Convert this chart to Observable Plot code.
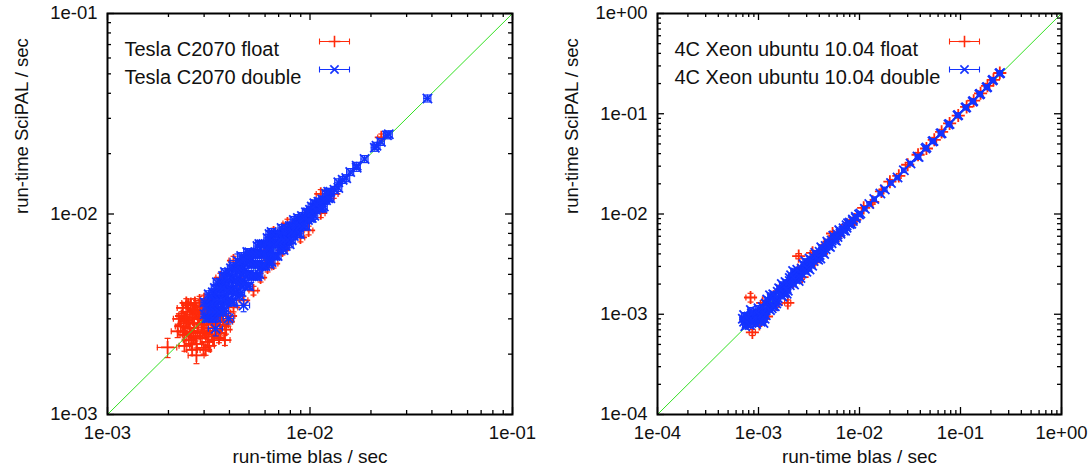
<!DOCTYPE html>
<html><head><meta charset="utf-8">
<script src="https://cdn.jsdelivr.net/npm/d3@7"></script>
<script src="https://cdn.jsdelivr.net/npm/@observablehq/plot@0.6"></script>
<style>
body{margin:0;background:#fff;}
#wrap{position:relative;width:1089px;height:476px;overflow:hidden;}
#left,#right{position:absolute;top:0;}
#left{left:0;} #right{left:545px;}
</style></head><body><div id="wrap"><div id="left"></div><div id="right"></div></div>
<script>
// ---- data: [blas run-time ms, SciPAL run-time ms, relative error] ----
const leftSeriesNames = ["Tesla C2070 float", "Tesla C2070 double"];
const rightSeriesNames = ["4C Xeon ubuntu 10.04 float", "4C Xeon ubuntu 10.04 double"];
const xLabel = "run-time blas / sec";
const yLabel = "run-time SciPAL / sec";
const leftDecades = [1e-3, 1e-2, 1e-1];
const leftTickLabels = ["1e-03", "1e-02", "1e-01"];
const rightDecades = [1e-4, 1e-3, 1e-2, 1e-1, 1e0];
const rightTickLabels = ["1e-04", "1e-03", "1e-02", "1e-01", "1e+00"];

const teslaFloat = [
[2.30,2.75,.06],[2.32,3.10,.05],[2.35,3.40,.06],[2.40,2.50,.05],[2.45,2.95,.07],[2.48,3.25,.05],[2.52,2.35,.06],[2.55,2.70,.05],[2.58,3.55,.06],[2.62,3.05,.05],[2.65,2.45,.07],[2.68,2.85,.05],[2.72,3.30,.06],[2.75,2.25,.06],[2.78,2.60,.05],[2.82,3.00,.05],[2.85,3.70,.05],[2.88,2.40,.06],[2.92,2.80,.05],[2.95,3.20,.06],[2.98,2.15,.07],[3.02,2.55,.05],[3.05,3.45,.05],[3.08,2.95,.05],[3.12,2.30,.06],[3.15,2.70,.05],[3.20,3.10,.05],[3.25,3.60,.05],[3.28,2.45,.06],[3.32,2.85,.05],[3.38,3.25,.05],[3.42,2.60,.06],[3.48,3.00,.05],[3.55,2.40,.05],[3.60,2.75,.05],[3.65,3.15,.05],[3.72,2.95,.05],[2.40,2.20,.06],[2.22,2.60,.07],[2.25,3.00,.06],
[2.50,3.50,.05],[2.70,3.60,.05],[2.60,2.25,.06],[3.00,3.75,.05],[3.35,2.35,.06],[2.38,2.85,.05],[2.88,3.45,.05],[3.18,2.20,.06],[3.50,3.40,.05],[2.55,3.15,.05],
[2.35,2.60,.05],[2.42,3.05,.05],[2.50,2.85,.05],[2.58,2.55,.05],[2.65,3.35,.05],[2.72,2.45,.05],[2.80,2.85,.05],[2.85,3.25,.05],[2.95,2.60,.05],[3.00,2.95,.05],[3.10,3.30,.05],[3.15,2.50,.05],[3.25,2.95,.05],[3.35,3.05,.05],[3.45,2.80,.05],[3.55,3.20,.05],[2.45,3.60,.05],[2.62,2.10,.06],[3.05,2.10,.06],[3.62,2.55,.05],
[3.85,2.65,.05],[3.95,2.90,.05],[3.80,2.35,.06],[4.05,3.10,.05],
[1.98,2.16,.11],[2.75,1.97,.09],
[3.92,2.94,.05],[4.19,3.42,.05],[4.70,3.71,.05],[5.26,4.15,.05],[5.70,4.82,.05],[6.17,5.41,.05],[6.61,5.66,.05],[7.31,6.58,.05],[7.74,7.13,.05],[8.97,7.64,.05],[9.84,8.28,.05],[11.3,10.1,.05],[13.1,12.6,.05],
[3.61,4.82,.05],[4.19,5.86,.05],[4.91,6.07,.05],[5.70,6.58,.05],[6.61,8.09,.05],[7.74,8.97,.05],[11.3,12.6,.05],
[22.5,24.1,.04],[4.5,4.6,.05],[6.0,6.2,.05],[8.0,8.1,.05],[10.0,10.2,.05]
];

const teslaDouble = [
[3.02,3.16,.04],[3.02,3.63,.04],
[3.16,3.02,.04],[3.16,3.55,.04],[3.16,3.98,.04],
[3.31,3.02,.04],[3.31,3.55,.04],[3.31,4.07,.04],
[3.47,3.02,.04],[3.47,3.55,.04],[3.47,3.98,.04],[3.47,4.57,.04],
[3.63,3.39,.04],[3.63,3.98,.04],[3.63,4.57,.04],
[3.80,3.39,.04],[3.80,3.98,.04],[3.80,4.47,.04],[3.80,5.13,.04],
[3.98,3.80,.04],[3.98,4.47,.04],[3.98,5.13,.04],
[4.17,3.63,.04],[4.17,4.17,.04],[4.17,4.79,.04],[4.17,5.50,.04],
[4.37,4.08,.04],[4.37,4.68,.04],[4.37,5.37,.04],
[4.57,4.07,.04],[4.57,4.68,.04],[4.57,5.37,.04],[4.57,6.17,.04],
[4.79,4.57,.04],[4.79,5.25,.04],[4.79,6.03,.04],
[5.01,4.36,.04],[5.01,5.01,.04],[5.01,5.75,.04],[5.01,6.45,.04],
[5.25,4.90,.04],[5.25,5.63,.04],[5.25,6.31,.04],
[5.50,4.90,.04],[5.50,5.63,.04],[5.50,6.31,.04],[5.50,6.92,.04],
[5.75,5.49,.04],[5.75,6.30,.04],[5.75,7.07,.04],
[6.03,5.50,.04],[6.03,6.31,.04],[6.03,7.09,.04],
[6.31,5.62,.04],[6.31,6.31,.04],[6.31,7.08,.04],[6.31,7.94,.04],
[6.61,6.17,.04],[6.61,7.09,.04],[6.61,7.95,.04],
[6.92,6.17,.04],[6.92,7.08,.04],[6.92,7.94,.04],
[7.24,6.91,.04],[7.24,7.94,.04],[7.24,8.51,.04],
[7.59,6.92,.04],[7.59,7.95,.04],[7.59,8.52,.04],
[7.94,7.07,.04],[7.94,7.94,.04],[7.94,8.70,.04],
[8.32,7.76,.04],[8.32,8.71,.04],[8.32,9.34,.04],
[8.71,7.94,.04],[8.71,8.91,.04],[8.71,9.55,.04],
[9.12,8.71,.04],[9.12,9.78,.04],
[9.55,8.71,.04],[9.55,9.55,.04],[9.55,10.2,.04],
[10.0,9.55,.04],[10.0,10.5,.04],
[10.5,9.80,.04],[10.5,10.7,.04],[10.5,11.3,.04],
[11.0,10.7,.04],[11.0,11.5,.04],
[11.5,10.7,.04],[11.5,11.8,.04],
[12.0,11.7,.04],[12.0,12.6,.04],
[12.6,12.0,.04],[12.6,12.9,.04],
[3.09,3.02,.04],[3.09,3.47,.04],
[3.24,3.24,.04],[3.24,3.81,.04],
[3.39,3.24,.04],[3.39,3.72,.04],[3.39,4.27,.04],
[3.55,3.24,.04],[3.55,3.72,.04],[3.55,4.27,.04],
[3.72,3.24,.04],[3.72,3.72,.04],[3.72,4.27,.04],[3.72,4.90,.04],
[3.89,3.63,.04],[3.89,4.17,.04],[3.89,4.79,.04],
[4.07,3.63,.04],[4.07,4.17,.04],[4.07,4.78,.04],[4.07,5.36,.04],
[4.27,3.98,.04],[4.27,4.58,.04],[4.27,5.25,.04],
[4.47,3.89,.04],[4.47,4.47,.04],[4.47,5.13,.04],[4.47,5.76,.04],
[4.68,4.47,.04],[4.68,5.13,.04],[4.68,5.89,.04],
[4.90,4.37,.04],[4.90,5.01,.04],[4.90,5.76,.04],[4.90,6.46,.04],
[5.13,4.90,.04],[5.13,5.62,.04],[5.13,6.31,.04],
[5.37,4.90,.04],[5.37,5.62,.04],[5.37,6.31,.04],
[5.62,5.01,.04],[5.62,5.62,.04],[5.62,6.31,.04],[5.62,7.08,.04],
[5.89,5.50,.04],[5.89,6.31,.04],[5.89,7.08,.04],
[6.17,5.89,.04],[6.17,6.76,.04],[6.17,7.59,.04],
[6.46,5.76,.04],[6.46,6.61,.04],[6.46,7.42,.04],[6.46,8.13,.04],
[6.76,6.17,.04],[6.76,7.08,.04],[6.76,7.76,.04],
[7.08,6.61,.04],[7.08,7.41,.04],[7.08,7.94,.04],
[7.41,6.61,.04],[7.41,7.41,.04],[7.41,8.13,.04],
[7.76,7.41,.04],[7.76,8.32,.04],
[8.13,7.41,.04],[8.13,8.13,.04],[8.13,8.71,.04],
[8.51,8.13,.04],[8.51,8.91,.04],
[8.91,7.94,.04],[8.91,8.71,.04],[8.91,9.33,.04],
[9.33,8.71,.04],[9.33,9.55,.04],
[9.77,9.33,.04],[9.77,10.2,.04],
[10.2,9.55,.04],[10.2,10.2,.04],[10.2,10.9,.04],
[10.7,10.5,.04],[10.7,11.2,.04],
[11.2,10.7,.04],[11.2,11.5,.04],
[11.7,10.9,.04],[11.7,11.7,.04],
[12.3,12.0,.04],[12.3,12.9,.04],
[13.2,13.2,.04],[13.8,13.5,.04],[13.8,14.4,.04],
[14.5,14.8,.04],[15.1,15.1,.04],[15.8,16.2,.04],
[17.0,17.0,.04],[17.0,17.4,.04],[18.6,18.8,.04],
[20.9,21.4,.04],[21.3,21.9,.04],[22.4,22.9,.04],
[24.0,24.7,.04],[24.5,25.0,.04],[38.0,37.7,.04],
[4.38,5.85,.08],[3.42,2.68,.08],[4.70,3.50,.07],[3.96,3.01,.06]
];

const xeonFloat = [
[0.78,0.81,.06],[0.87,0.66,.07],[0.834,1.47,.10],[0.92,0.90,.05],[1.02,0.80,.05],[0.75,0.88,.05],
[1.1,1.3,.05],[1.5,1.25,.06],[1.2,0.95,.06],[2.7,2.35,.05],[4.5,4.9,.05],
[1.3,1.22,.05],[1.6,1.70,.05],[1.95,1.30,.07],[2.2,2.10,.05],[2.5,3.80,.06],[2.45,2.75,.05],[3.6,3.30,.06],[3.43,4.10,.05],[3.0,3.00,.05],[4.2,4.0,.05],[5.41,6.39,.05],[5.0,5.3,.05],[6.2,6.0,.05],[7.5,7.8,.05],[9.0,8.8,.05],[11,11.5,.05],[13.5,13.2,.05],[16.5,16.8,.05],[20,21,.05],[24.5,24,.05],[30,31,.05],[38,39,.05],[46,45,.05],[55,55,.05],[65,66,.05],[78,80,.05],[95,96,.05],[115,117,.05],[135,135,.05],[158,160,.05],[185,190,.05],[212,218,.05],[245,255,.05]
];

const xeonDouble = [
[0.72,0.84,.06],[0.76,0.80,.05],[0.80,0.88,.05],[0.85,0.82,.05],[0.90,0.86,.05],[0.95,0.80,.05],[0.78,0.93,.05],[1.00,0.90,.05],[1.05,0.84,.05],[0.88,0.95,.05],[1.10,0.92,.05],[0.98,1.00,.05],[0.74,0.76,.06],[0.80,0.95,.10],
[0.70,0.90,.06],[0.82,0.78,.05],[0.92,0.92,.05],[1.02,0.96,.05],[1.08,1.05,.05],[1.15,0.90,.05],[0.86,1.02,.06],[0.96,1.06,.05],
[0.72,0.98,.06],[0.84,1.10,.06],[1.00,1.15,.06],[1.30,1.55,.05],[1.70,2.00,.05],[2.20,2.70,.05],[2.90,3.40,.05],[1.12,0.82,.05],[1.45,1.20,.05],[1.90,1.60,.05],[2.50,2.15,.05],[3.20,2.80,.05],[4.10,3.60,.05],
[1.10,1.02,.05],[1.10,1.18,.05],[1.18,1.10,.05],[1.18,1.28,.05],[1.18,0.98,.05],
[1.26,1.20,.05],[1.26,1.36,.05],[1.35,1.25,.05],[1.35,1.45,.05],[1.35,1.15,.05],
[1.45,1.38,.05],[1.45,1.55,.05],[1.55,1.45,.05],[1.55,1.68,.05],[1.55,1.35,.05],
[1.66,1.58,.05],[1.66,1.78,.05],[1.78,1.68,.05],[1.78,1.90,.05],[1.78,1.60,.05],
[1.90,1.82,.05],[1.90,2.05,.05],[2.04,1.95,.05],[2.04,2.15,.05],[2.04,2.30,.05],
[2.18,2.05,.05],[2.18,2.30,.05],[2.34,2.22,.05],[2.34,2.45,.05],[2.34,2.60,.05],
[2.50,2.40,.05],[2.50,2.65,.05],[2.68,2.55,.05],[2.68,2.85,.05],
[2.87,2.75,.05],[2.87,3.05,.05],[3.07,2.95,.05],[3.07,3.25,.05],
[3.29,3.15,.05],[3.29,3.45,.05],[3.52,3.40,.05],[3.52,3.70,.05],
[3.77,3.60,.05],[3.77,3.95,.05],[4.03,3.90,.05],[4.03,4.20,.05],
[4.32,4.15,.05],[4.32,4.50,.05],[4.62,4.45,.05],[4.62,4.80,.05],
[4.94,4.80,.05],[4.94,5.10,.05],[5.29,5.10,.05],[5.29,5.45,.05],
[5.66,5.50,.05],[5.66,5.85,.05],[6.06,5.90,.05],[6.06,6.25,.05],
[6.48,6.35,.05],[6.48,6.65,.05],[6.95,6.85,.05],[6.95,7.20,.05],
[7.45,7.30,.05],[7.45,7.70,.05],[8.0,7.9,.05],[8.0,8.2,.05],
[8.6,8.5,.05],[8.6,8.8,.05],[9.2,9.1,.05],[9.2,9.4,.05],
[1.22,1.40,.05],[1.30,1.10,.05],[1.40,1.58,.05],[1.50,1.28,.05],[1.60,1.82,.05],[1.72,1.50,.05],[1.85,2.10,.05],[1.95,1.72,.05],[2.10,2.45,.05],[2.25,1.98,.05],[2.42,2.78,.05],[2.60,2.30,.05],[2.78,3.15,.05],[2.98,2.65,.05],[3.20,3.60,.05],[3.40,3.05,.05],[3.65,4.10,.05],[3.90,3.50,.05],[4.18,4.65,.05],[4.47,4.00,.05],[4.80,5.30,.05],[5.10,4.70,.05],[5.50,6.05,.05],[5.85,5.40,.05],[6.30,6.90,.05],[7.20,6.80,.05],[7.70,8.10,.05],[8.30,8.00,.05],
[9.9,9.9,.05],[10.2,10.1,.05],[11.3,11.3,.05],[12.5,12.6,.05],[14.0,14.1,.05],[16.1,16.0,.05],[17.8,17.6,.05],[20.5,20.4,.05],[23.8,23.1,.05],[27.5,27.3,.05],[32.0,31.9,.05],
[37.5,37.5,.05],[38.5,37.0,.05],[45.0,45.0,.05],[46,46,.05],[52.8,52.9,.05],[54,53.5,.05],[63.4,63.5,.05],[65,64,.05],[76.1,78.1,.05],[78,79,.05],[93.4,96.1,.05],[95,97,.05],[112,115,.05],[114,116,.05],[132,132,.05],[134,134,.05],[154,156,.05],[157,158,.05],[181,183,.05],[184,185,.05],[207,215,.05],[210,218,.05],[243,252,.05],[247,255,.05],
[1.40,1.20,.08]
];

// ---- drawing ----
const RED = "#ff2a0a", BLUE = "#1433ff", GREEN = "#33e022";
const FONT = "Liberation Sans, Arial, Helvetica, sans-serif";
const toRows = s => s.map(([x, y, e]) => ({x: x / 1000, y: y / 1000, e}));
const vCap = {draw(c){c.moveTo(0,-3);c.lineTo(0,3);}};
const hCap = {draw(c){c.moveTo(-3,0);c.lineTo(3,0);}};
const legendBar = {draw(c){c.moveTo(-15,0);c.lineTo(15,0);c.moveTo(-15,-3);c.lineTo(-15,3);c.moveTo(15,-3);c.lineTo(15,3);}};

function seriesMarks(rows, color, symbol) {
  const o = {stroke: color, strokeWidth: 1.2, fill: "none"};
  return [
    Plot.ruleY(rows, {y: "y", x1: d => d.x * (1 - d.e), x2: d => d.x * (1 + d.e), ...o}),
    Plot.ruleX(rows, {x: "x", y1: d => d.y * (1 - d.e), y2: d => d.y * (1 + d.e), ...o}),
    Plot.dot(rows, {x: d => d.x * (1 - d.e), y: "y", symbol: vCap, ...o}),
    Plot.dot(rows, {x: d => d.x * (1 + d.e), y: "y", symbol: vCap, ...o}),
    Plot.dot(rows, {x: "x", y: d => d.y * (1 - d.e), symbol: hCap, ...o}),
    Plot.dot(rows, {x: "x", y: d => d.y * (1 + d.e), symbol: hCap, ...o}),
    Plot.dot(rows, {x: "x", y: "y", symbol, r: 4.3, stroke: color, strokeWidth: 1.8, fill: "none"})
  ];
}

function panel({width, marginLeft, marginRight, decades, tickLabels, floatData, doubleData, names, legendDx}) {
  const height = 476, marginTop = 13, marginBottom = 62;
  const innerH = height - marginTop - marginBottom;
  const innerW = width - marginLeft - marginRight;
  const fmt = new Map(decades.map((d, i) => [d, tickLabels[i]]));
  const minors = decades.slice(0, -1).flatMap(d => [2,3,4,5,6,7,8,9].map(k => k * d));
  const domain = [decades[0], decades[decades.length - 1]];
  const MAJ = 7, MIN = 4;
  const tk = {stroke: "black", strokeWidth: 1.3};
  return Plot.plot({
    width, height, marginTop, marginBottom, marginLeft, marginRight,
    style: {fontFamily: FONT, fontSize: "18px", background: "white", color: "#111"},
    x: {type: "log", domain},
    y: {type: "log", domain},
    marks: [
      ...seriesMarks(toRows(floatData), RED, "plus"),
      Plot.line(domain.map(v => [v, v]), {stroke: GREEN, strokeWidth: 1}),
      ...seriesMarks(toRows(doubleData), BLUE, "times"),
      Plot.tickX(decades, {x: d => d, insetTop: innerH - MAJ, ...tk}),
      Plot.tickX(decades, {x: d => d, insetBottom: innerH - MAJ, ...tk}),
      Plot.tickX(minors, {x: d => d, insetTop: innerH - MIN, ...tk}),
      Plot.tickX(minors, {x: d => d, insetBottom: innerH - MIN, ...tk}),
      Plot.tickY(decades, {y: d => d, insetRight: innerW - MAJ, ...tk}),
      Plot.tickY(decades, {y: d => d, insetLeft: innerW - MAJ, ...tk}),
      Plot.tickY(minors, {y: d => d, insetRight: innerW - MIN, ...tk}),
      Plot.tickY(minors, {y: d => d, insetLeft: innerW - MIN, ...tk}),
      Plot.frame({stroke: "black", strokeWidth: 2}),
      Plot.axisX({ticks: decades, tickFormat: d => fmt.get(d), tickSize: 0, tickPadding: 11, label: null, fontSize: 18.5}),
      Plot.axisY({ticks: decades, tickFormat: d => fmt.get(d), tickSize: 0, tickPadding: 10, label: null, fontSize: 18.5}),
      Plot.text([xLabel], {text: d => d, frameAnchor: "bottom", dy: 48, fontSize: 19}),
      Plot.text([yLabel], {text: d => d, frameAnchor: "left", dx: -85, rotate: -90, fontSize: 18.5}),
      Plot.text([names[0]], {text: d => d, frameAnchor: "top-left", textAnchor: "start", dx: 17, dy: 28, fontSize: 20}),
      Plot.text([names[1]], {text: d => d, frameAnchor: "top-left", textAnchor: "start", dx: 17, dy: 56, fontSize: 20}),
      Plot.dot([0], {frameAnchor: "top-left", dx: legendDx, dy: 28, symbol: legendBar, stroke: RED, fill: "none", strokeWidth: 1.1}),
      Plot.dot([0], {frameAnchor: "top-left", dx: legendDx, dy: 28, symbol: "plus", r: 3.8, stroke: RED, fill: "none", strokeWidth: 1.6}),
      Plot.dot([0], {frameAnchor: "top-left", dx: legendDx, dy: 56, symbol: legendBar, stroke: BLUE, fill: "none", strokeWidth: 1.1}),
      Plot.dot([0], {frameAnchor: "top-left", dx: legendDx, dy: 56, symbol: "times", r: 3.8, stroke: BLUE, fill: "none", strokeWidth: 1.6})
    ]
  });
}

document.getElementById("left").append(panel({
  width: 545, marginLeft: 107, marginRight: 33,
  decades: leftDecades, tickLabels: leftTickLabels,
  floatData: teslaFloat, doubleData: teslaDouble, names: leftSeriesNames, legendDx: 227
}));
document.getElementById("right").append(panel({
  width: 544, marginLeft: 112, marginRight: 28,
  decades: rightDecades, tickLabels: rightTickLabels,
  floatData: xeonFloat, doubleData: xeonDouble, names: rightSeriesNames, legendDx: 307
}));
</script></body></html>
